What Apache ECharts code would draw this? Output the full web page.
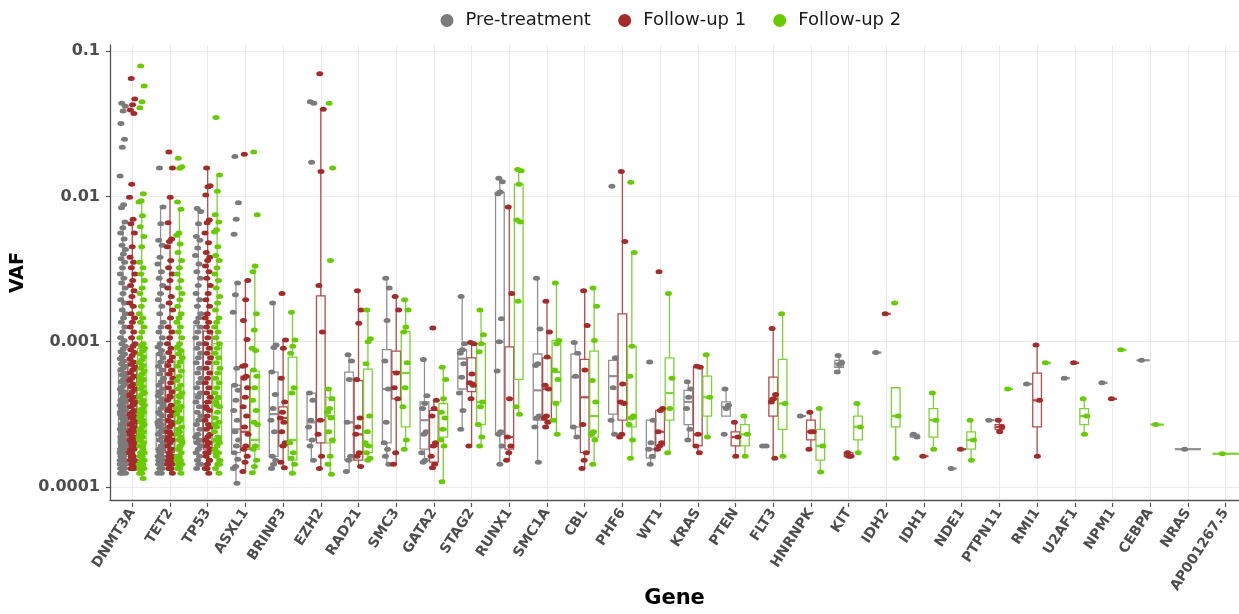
<!DOCTYPE html>
<html>
<head>
<meta charset="utf-8">
<script src="https://cdn.jsdelivr.net/npm/echarts@6/dist/echarts.min.js"></script>
<style>
  html, body { margin: 0; padding: 0; background: #fff; }
  #chart { width: 1239px; height: 614px; }
</style>
</head>
<body>
<div id="chart"></div>
<script>
var genes = ['DNMT3A', 'TET2', 'TP53', 'ASXL1', 'BRINP3', 'EZH2', 'RAD21', 'SMC3', 'GATA2', 'STAG2',
  'RUNX1', 'SMC1A', 'CBL', 'PHF6', 'WT1', 'KRAS', 'PTEN', 'FLT3', 'HNRNPK', 'KIT',
  'IDH2', 'IDH1', 'NDE1', 'PTPN11', 'RMI1', 'U2AF1', 'NPM1', 'CEBPA', 'NRAS', 'AP001267.5'];
var groups = ['Pre-treatment', 'Follow-up 1', 'Follow-up 2'];

// VAF of every sample, per gene
var prePts = {
  DNMT3A: [0.044, 0.042, 0.039, 0.032, 0.025, 0.022, 0.014, 0.0089, 0.0085, 0.0068, 0.0062, 0.0057, 0.0052, 0.0047,
    0.0044, 0.0041, 0.0038, 0.0036, 0.0033, 0.003, 0.0028, 0.0026, 0.0024, 0.0022, 0.002, 0.0019, 0.0017, 0.0016,
    0.0015, 0.0014, 0.0013, 0.0012, 0.0011, 0.00105, 0.001, 0.00096, 0.00092, 0.00088, 0.00085, 0.00082, 0.00079,
    0.00076, 0.00073, 0.0007, 0.00068, 0.00066, 0.00063, 0.00061, 0.00059, 0.00057, 0.00055, 0.00053, 0.00051,
    0.00049, 0.00047, 0.00046, 0.00044, 0.00043, 0.00041, 0.0004, 0.00039, 0.00038, 0.00037, 0.00036, 0.00035,
    0.00034, 0.00033, 0.00032, 0.00031, 0.0003, 0.00029, 0.00028, 0.00028, 0.00027, 0.00026, 0.00026, 0.00025,
    0.00024, 0.00024, 0.00023, 0.00022, 0.00022, 0.00021, 0.00021, 0.0002, 0.0002, 0.00019, 0.00019, 0.00018,
    0.00018, 0.00018, 0.00017, 0.00017, 0.00016, 0.00016, 0.00016, 0.00015, 0.00015, 0.00015, 0.00014, 0.00014,
    0.00014, 0.00013, 0.00013, 0.00056, 0.00048, 0.00042, 0.00038, 0.00034, 0.0003, 0.00027, 0.00025, 0.00023,
    0.00021, 0.0002, 0.00019, 0.00018, 0.00017, 0.00016, 0.00015, 0.00014, 0.00013, 0.00045, 0.00035, 0.00029,
    0.00026, 0.00022, 0.00019, 0.00017, 0.00015],
  TET2: [0.0159, 0.0086, 0.0066, 0.0051, 0.0047, 0.0039, 0.0035, 0.0031, 0.0028, 0.0025, 0.0022, 0.002, 0.0018,
    0.0016, 0.0014, 0.0013, 0.0012, 0.0011, 0.001, 0.00095, 0.0009, 0.00085, 0.0008, 0.00075, 0.0007, 0.00066,
    0.00062, 0.00058, 0.00055, 0.00052, 0.00049, 0.00046, 0.00044, 0.00042, 0.0004, 0.00038, 0.00036, 0.00034,
    0.00032, 0.0003, 0.00029, 0.00028, 0.00027, 0.00026, 0.00025, 0.00024, 0.00023, 0.00022, 0.00021, 0.0002,
    0.00019, 0.00019, 0.00018, 0.00017, 0.00017, 0.00016, 0.00016, 0.00015, 0.00015, 0.00014, 0.00014, 0.00013,
    0.00013, 0.00047, 0.00039, 0.00033, 0.00028, 0.00025, 0.00022, 0.0002, 0.00018, 0.00016, 0.00015, 0.00014],
  TP53: [0.0084, 0.008, 0.0066, 0.0054, 0.0051, 0.0045, 0.004, 0.0035, 0.0031, 0.0028, 0.0025, 0.0022, 0.002, 0.0018,
    0.0016, 0.0015, 0.0014, 0.0013, 0.0012, 0.0011, 0.001, 0.00093, 0.00086, 0.0008, 0.00074, 0.00068, 0.00063,
    0.00058, 0.00054, 0.0005, 0.00046, 0.00043, 0.0004, 0.00037, 0.00034, 0.00032, 0.0003, 0.00028, 0.00026,
    0.00024, 0.00023, 0.00022, 0.00021, 0.0002, 0.00019, 0.00018, 0.00017, 0.00016, 0.00015, 0.00015, 0.00014],
  ASXL1: [0.019, 0.0092, 0.0071, 0.0056, 0.0026, 0.00216, 0.00164, 0.00068, 0.00052, 0.00048, 0.00041, 0.00035,
    0.0003, 0.00025, 0.00022, 0.0002, 0.00018, 0.000162, 0.000145, 0.00014, 0.000111],
  BRINP3: [0.0019, 0.00098, 0.00094, 0.00064, 0.00045, 0.00036, 0.0003, 0.00025, 0.00017, 0.00016, 0.00015, 0.00014],
  EZH2: [0.045, 0.044, 0.0174, 0.00046, 0.00041, 0.0003, 0.00027, 0.00022, 0.0002, 0.00016],
  RAD21: [0.00084, 0.00076, 0.00057, 0.00029, 0.00017, 0.00016, 0.000134],
  SMC3: [0.0028, 0.0024, 0.00144, 0.00076, 0.00049, 0.00029, 0.00021, 0.00019, 0.00017, 0.00015],
  GATA2: [0.00078, 0.00044, 0.00039, 0.00036, 0.00025, 0.00024, 0.00018, 0.00016, 0.000155],
  STAG2: [0.0021, 0.001, 0.00091, 0.00086, 0.00073, 0.00059, 0.00046, 0.00035, 0.00026],
  RUNX1: [0.0135, 0.0128, 0.0109, 0.0106, 0.00148, 0.00103, 0.00065, 0.00025, 0.00024, 0.0002, 0.00015],
  SMC1A: [0.0028, 0.00126, 0.00073, 0.00071, 0.00032, 0.00031, 0.00027, 0.000155],
  CBL: [0.00102, 0.00086, 0.0006, 0.00027, 0.00023],
  PHF6: [0.0119, 0.0008, 0.0005, 0.0003, 0.00024],
  WT1: [0.00075, 0.0003, 0.00021, 0.00019, 0.00017, 0.00015],
  KRAS: [0.00055, 0.00049, 0.00043, 0.00036, 0.00026, 0.00022],
  PTEN: [0.00049, 0.00038, 0.00036, 0.00024],
  FLT3: [0.0002, 0.0002],
  HNRNPK: [0.00032],
  KIT: [0.00083, 0.00074, 0.00072, 0.00064],
  IDH2: [0.00087],
  IDH1: [0.00024, 0.00023],
  NDE1: [0.00014],
  PTPN11: [0.0003],
  RMI1: [0.00053],
  U2AF1: [0.00058],
  NPM1: [0.00054],
  CEBPA: [0.00077],
  NRAS: [0.00019]
};
var fu1Pts = {
  DNMT3A: [0.065, 0.047, 0.043, 0.0395, 0.0375, 0.0123, 0.01, 0.0071, 0.0066, 0.0057, 0.0046, 0.0039, 0.0036, 0.0033,
    0.003, 0.0027, 0.0025, 0.0023, 0.0021, 0.0019, 0.0018, 0.0016, 0.0015, 0.0014, 0.0013, 0.0012, 0.0011, 0.001,
    0.00096, 0.00091, 0.00087, 0.00083, 0.00079, 0.00075, 0.00072, 0.00069, 0.00066, 0.00063, 0.0006, 0.00058,
    0.00056, 0.00053, 0.00051, 0.00049, 0.00047, 0.00045, 0.00043, 0.00041, 0.0004, 0.00038, 0.00037, 0.00035,
    0.00034, 0.00033, 0.00032, 0.00031, 0.0003, 0.00029, 0.00028, 0.00027, 0.00026, 0.00025, 0.00025, 0.00024,
    0.00023, 0.00023, 0.00022, 0.00021, 0.00021, 0.0002, 0.0002, 0.00019, 0.00019, 0.00018, 0.00018, 0.00017,
    0.00017, 0.00016, 0.00016, 0.00016, 0.00015, 0.00015, 0.00015, 0.00014, 0.00014, 0.00014, 0.00052, 0.00044,
    0.00039, 0.00033, 0.00029, 0.00026, 0.00024, 0.00022, 0.0002, 0.00018, 0.00017, 0.00016, 0.00015, 0.00014],
  TET2: [0.0204, 0.0159, 0.01, 0.0067, 0.0052, 0.005, 0.0046, 0.0037, 0.0033, 0.003, 0.0027, 0.0024, 0.0021, 0.0019,
    0.0017, 0.0015, 0.0013, 0.0012, 0.0011, 0.001, 0.00093, 0.00087, 0.00081, 0.00076, 0.00071, 0.00066, 0.00062,
    0.00058, 0.00054, 0.0005, 0.00047, 0.00044, 0.00041, 0.00038, 0.00036, 0.00034, 0.00032, 0.0003, 0.00028,
    0.00027, 0.00025, 0.00024, 0.00023, 0.00022, 0.00021, 0.0002, 0.00019, 0.00018, 0.00017, 0.00017, 0.00016,
    0.00016, 0.00015, 0.00015, 0.00014, 0.00014, 0.00013, 0.00043, 0.00035, 0.00029, 0.00025, 0.00022, 0.00019,
    0.00017, 0.00015, 0.00014],
  TP53: [0.0159, 0.012, 0.0118, 0.0104, 0.007, 0.0067, 0.0057, 0.0049, 0.0042, 0.0039, 0.0037, 0.0034, 0.0031, 0.0028,
    0.0025, 0.0022, 0.002, 0.0018, 0.0016, 0.0015, 0.0014, 0.0013, 0.0012, 0.0011, 0.001, 0.00093, 0.00086, 0.0008,
    0.00074, 0.00068, 0.00063, 0.00058, 0.00054, 0.0005, 0.00046, 0.00043, 0.0004, 0.00037, 0.00035, 0.00032,
    0.0003, 0.00028, 0.00026, 0.00024, 0.00023, 0.00022, 0.00021, 0.0002, 0.00019, 0.00018, 0.00017, 0.00016,
    0.00015, 0.00014, 0.00013, 0.00036, 0.00027, 0.00021, 0.00018, 0.00016, 0.00014],
  ASXL1: [0.0197, 0.0027, 0.002, 0.00144, 0.00107, 0.00071, 0.0007, 0.0006, 0.00058, 0.0005, 0.00043, 0.00037,
    0.00032, 0.00027, 0.00024, 0.0002, 0.00019, 0.00017, 0.000155, 0.000134],
  BRINP3: [0.0022, 0.00106, 0.00093, 0.00058, 0.0004, 0.00034, 0.00031, 0.00029, 0.00025, 0.00021, 0.0002, 0.000155, 0.000142],
  EZH2: [0.07, 0.04, 0.015, 0.0025, 0.0012, 0.0003, 0.00024, 0.00017, 0.00014],
  RAD21: [0.0023, 0.0017, 0.00138, 0.00057, 0.00031, 0.00027, 0.00024, 0.00018, 0.00017, 0.000145],
  SMC3: [0.0021, 0.0017, 0.00063, 0.0005, 0.00042, 0.00018, 0.00015],
  GATA2: [0.00128, 0.00041, 0.00036, 0.00032, 0.00021, 0.0002, 0.00017, 0.00015, 0.000142],
  STAG2: [0.00102, 0.001, 0.00062, 0.00054, 0.00052, 0.00042, 0.0002],
  RUNX1: [0.0086, 0.0022, 0.00042, 0.00023, 0.0002, 0.00018, 0.00016],
  SMC1A: [0.00195, 0.0012, 0.00081, 0.00052, 0.00049, 0.00032, 0.00031, 0.00029, 0.00027],
  CBL: [0.0023, 0.00133, 0.00066, 0.00028, 0.00018, 0.00016, 0.00014],
  PHF6: [0.015, 0.005, 0.00053, 0.0004, 0.00039, 0.00024, 0.00023],
  WT1: [0.0031, 0.00036, 0.00035, 0.00025, 0.00021, 0.0002, 0.00019],
  KRAS: [0.0007, 0.00069, 0.00024, 0.0002, 0.00018],
  PTEN: [0.00029, 0.00023, 0.00017],
  FLT3: [0.00127, 0.00045, 0.00042, 0.0004, 0.000165],
  HNRNPK: [0.00034, 0.00025, 0.00025, 0.00019],
  KIT: [0.00018, 0.00017, 0.00017],
  IDH2: [0.0016],
  IDH1: [0.00017],
  NDE1: [0.00019],
  PTPN11: [0.0003, 0.00027, 0.00025],
  RMI1: [0.00098, 0.00041, 0.00017],
  U2AF1: [0.00074],
  NPM1: [0.00042]
};
var fu2Pts = {
  DNMT3A: [0.079, 0.0577, 0.045, 0.041, 0.0106, 0.0095, 0.0093, 0.0075, 0.0063, 0.0054, 0.0046, 0.0036, 0.0033, 0.003,
    0.0027, 0.0024, 0.0022, 0.002, 0.0018, 0.0016, 0.0015, 0.0014, 0.0013, 0.0012, 0.0011, 0.001, 0.00097, 0.00093,
    0.00089, 0.00085, 0.00081, 0.00077, 0.00074, 0.00071, 0.00068, 0.00065, 0.00062, 0.0006, 0.00057, 0.00055,
    0.00053, 0.00051, 0.00049, 0.00047, 0.00045, 0.00043, 0.00041, 0.0004, 0.00038, 0.00036, 0.00035, 0.00034,
    0.00032, 0.00031, 0.0003, 0.00029, 0.00028, 0.00027, 0.00026, 0.00025, 0.00024, 0.00023, 0.00023, 0.00022,
    0.00021, 0.0002, 0.0002, 0.00019, 0.00018, 0.00018, 0.00017, 0.00017, 0.00016, 0.00016, 0.00015, 0.00015,
    0.00014, 0.00014, 0.00013, 0.00013, 0.00012, 0.00058, 0.00046, 0.00039, 0.00033, 0.00028, 0.00025, 0.00022,
    0.0002, 0.00018, 0.00016, 0.00015, 0.00014],
  TET2: [0.0185, 0.0162, 0.0158, 0.0093, 0.0083, 0.0057, 0.0055, 0.0048, 0.0042, 0.0037, 0.0033, 0.003, 0.0027, 0.0024,
    0.0022, 0.002, 0.0018, 0.0016, 0.0015, 0.0014, 0.0013, 0.0012, 0.0011, 0.001, 0.00095, 0.0009, 0.00085, 0.0008,
    0.00075, 0.0007, 0.00065, 0.0006, 0.00056, 0.00052, 0.00049, 0.00046, 0.00043, 0.0004, 0.00037, 0.00035,
    0.00033, 0.00031, 0.00029, 0.00027, 0.00025, 0.00024, 0.00023, 0.00022, 0.00021, 0.0002, 0.00019, 0.00018,
    0.00017, 0.00016, 0.00016, 0.00015, 0.00015, 0.00014, 0.00014, 0.00013, 0.00044, 0.00036, 0.0003, 0.00026,
    0.00022, 0.00019, 0.00017, 0.00015],
  TP53: [0.0352, 0.0142, 0.011, 0.0076, 0.0068, 0.006, 0.0058, 0.0046, 0.004, 0.0037, 0.0033, 0.003, 0.0027, 0.0024,
    0.0021, 0.0019, 0.0017, 0.0015, 0.0014, 0.0013, 0.0012, 0.0011, 0.001, 0.00093, 0.00086, 0.0008, 0.00074,
    0.00068, 0.00063, 0.00058, 0.00054, 0.0005, 0.00046, 0.00043, 0.0004, 0.00037, 0.00034, 0.00031, 0.00029,
    0.00027, 0.00025, 0.00023, 0.00022, 0.00021, 0.0002, 0.00019, 0.00018, 0.00017, 0.00016, 0.00015, 0.00014,
    0.00013, 0.00038, 0.00028, 0.00022, 0.00018, 0.00015],
  ASXL1: [0.0204, 0.0076, 0.0034, 0.0031, 0.0016, 0.00124, 0.00093, 0.0009, 0.00066, 0.0006, 0.0005, 0.00041,
    0.00035, 0.00029, 0.00028, 0.0002, 0.00019, 0.00016, 0.000145, 0.000131],
  BRINP3: [0.00164, 0.00106, 0.00096, 0.00086, 0.0005, 0.00046, 0.00021, 0.00018, 0.000165, 0.00015, 0.00013],
  EZH2: [0.044, 0.0159, 0.0037, 0.00049, 0.00042, 0.00036, 0.00034, 0.00031, 0.00025, 0.00022, 0.00017, 0.00015, 0.000128],
  RAD21: [0.0017, 0.00108, 0.00103, 0.00073, 0.00032, 0.00025, 0.00021, 0.0002, 0.00018, 0.000165, 0.00016],
  SMC3: [0.002, 0.0017, 0.0013, 0.0012, 0.00074, 0.0005, 0.00037, 0.00022, 0.00019],
  GATA2: [0.00069, 0.00057, 0.00042, 0.00034, 0.00031, 0.00026, 0.00022, 0.0002, 0.000114],
  STAG2: [0.0017, 0.00115, 0.001, 0.00088, 0.0004, 0.00037, 0.00028, 0.00023, 0.0002],
  RUNX1: [0.0155, 0.0152, 0.0123, 0.007, 0.0068, 0.00195, 0.00037, 0.00033],
  SMC1A: [0.0026, 0.00105, 0.001, 0.00066, 0.00057, 0.00039, 0.0003, 0.00024],
  CBL: [0.0024, 0.0018, 0.00105, 0.00056, 0.0004, 0.00025, 0.00024, 0.00022, 0.00015],
  PHF6: [0.0127, 0.0042, 0.00096, 0.0006, 0.00032, 0.00031, 0.00028, 0.00022, 0.000165],
  WT1: [0.0022, 0.00058, 0.00036, 0.00018],
  KRAS: [0.00084, 0.00043, 0.00023],
  PTEN: [0.00032, 0.00024, 0.00017],
  FLT3: [0.0016, 0.00039, 0.00017],
  HNRNPK: [0.00036, 0.0002, 0.000133],
  KIT: [0.00039, 0.00027, 0.00018],
  IDH2: [0.0019, 0.00032, 0.000165],
  IDH1: [0.00046, 0.0003, 0.00019],
  NDE1: [0.0003, 0.00022, 0.00016],
  PTPN11: [0.00049],
  RMI1: [0.00074],
  U2AF1: [0.00042, 0.00032, 0.00024],
  NPM1: [0.00091],
  CEBPA: [0.00028],
  'AP001267.5': [0.000177]
};

// box statistics [lower whisker, Q1, median, Q3, upper whisker]
var preBox = {
  DNMT3A: [0.00013, 0.00019, 0.00031, 0.00068, 0.0068],
  TET2: [0.00013, 0.00018, 0.0003, 0.00085, 0.0086],
  TP53: [0.00014, 0.00021, 0.00045, 0.00133, 0.0084],
  ASXL1: [0.000111, 0.00018, 0.00026, 0.00052, 0.0026],
  BRINP3: [0.00014, 0.00017, 0.00033, 0.00064, 0.0019],
  EZH2: [0.00016, 0.00022, 0.00029, 0.00046, 0.00046],
  RAD21: [0.000134, 0.00016, 0.00029, 0.00064, 0.00084],
  SMC3: [0.00015, 0.00021, 0.00049, 0.00091, 0.0028],
  GATA2: [0.000155, 0.00019, 0.0003, 0.0004, 0.00078],
  STAG2: [0.00026, 0.00049, 0.00079, 0.00091, 0.0021],
  RUNX1: [0.00015, 0.00024, 0.00103, 0.0108, 0.0135],
  SMC1A: [0.000155, 0.0003, 0.00048, 0.00085, 0.0028],
  CBL: [0.00023, 0.00027, 0.00059, 0.00085, 0.00102],
  PHF6: [0.00024, 0.00033, 0.0006, 0.00077, 0.0008],
  WT1: [0.00015, 0.000165, 0.00019, 0.0003, 0.0003],
  KRAS: [0.00022, 0.00028, 0.0004, 0.00048, 0.00055],
  PTEN: [0.00032, 0.00032, 0.00037, 0.0004, 0.00049],
  FLT3: [0.0002, 0.0002, 0.0002, 0.0002, 0.0002],
  KIT: [0.00064, 0.00069, 0.00073, 0.00077, 0.00083],
  IDH1: [0.00023, 0.00023, 0.000235, 0.00024, 0.00024]
};
var fu1Box = {
  DNMT3A: [0.00014, 0.0002, 0.00033, 0.00075, 0.0071],
  TET2: [0.00013, 0.00018, 0.00029, 0.00075, 0.01],
  TP53: [0.00013, 0.00019, 0.0004, 0.00122, 0.0159],
  ASXL1: [0.000134, 0.00019, 0.00025, 0.0006, 0.0027],
  BRINP3: [0.000142, 0.0002, 0.00031, 0.00037, 0.00106],
  EZH2: [0.00014, 0.00021, 0.0003, 0.00212, 0.04],
  RAD21: [0.000145, 0.00016, 0.00024, 0.00056, 0.0023],
  SMC3: [0.00015, 0.00042, 0.00064, 0.00089, 0.0021],
  GATA2: [0.000142, 0.000155, 0.0002, 0.00035, 0.00041],
  STAG2: [0.0002, 0.00047, 0.00054, 0.0008, 0.00102],
  RUNX1: [0.00016, 0.00019, 0.00023, 0.00095, 0.0086],
  SMC1A: [0.00027, 0.0003, 0.00049, 0.0008, 0.00195],
  CBL: [0.00014, 0.00018, 0.00043, 0.00078, 0.0023],
  PHF6: [0.00023, 0.0003, 0.0004, 0.0016, 0.015],
  WT1: [0.00019, 0.0002, 0.00025, 0.00035, 0.00036],
  KRAS: [0.00018, 0.0002, 0.00024, 0.00069, 0.0007],
  PTEN: [0.00017, 0.0002, 0.00023, 0.00025, 0.00029],
  FLT3: [0.000165, 0.00032, 0.00042, 0.00059, 0.00127],
  HNRNPK: [0.00019, 0.00022, 0.00025, 0.0003, 0.00034],
  KIT: [0.00017, 0.00017, 0.00017, 0.00018, 0.00018],
  PTPN11: [0.00025, 0.00026, 0.00027, 0.00028, 0.0003],
  RMI1: [0.00017, 0.00027, 0.00041, 0.00063, 0.00098]
};
var fu2Box = {
  DNMT3A: [0.00012, 0.00021, 0.00036, 0.00093, 0.0095],
  TET2: [0.00013, 0.0002, 0.00038, 0.00091, 0.0083],
  TP53: [0.00013, 0.00021, 0.00042, 0.001, 0.0142],
  ASXL1: [0.000131, 0.00019, 0.00022, 0.00065, 0.0034],
  BRINP3: [0.00013, 0.00016, 0.00022, 0.00081, 0.00164],
  EZH2: [0.000128, 0.00021, 0.00032, 0.00043, 0.0005],
  RAD21: [0.00016, 0.00018, 0.0002, 0.00067, 0.0017],
  SMC3: [0.00019, 0.00027, 0.00063, 0.00121, 0.002],
  GATA2: [0.000114, 0.00023, 0.00026, 0.00039, 0.00069],
  STAG2: [0.0002, 0.00028, 0.0004, 0.001, 0.0017],
  RUNX1: [0.00033, 0.00057, 0.0069, 0.0123, 0.0155],
  SMC1A: [0.00024, 0.0004, 0.00064, 0.00105, 0.0026],
  CBL: [0.00015, 0.00023, 0.00032, 0.00089, 0.0024],
  PHF6: [0.000165, 0.00027, 0.00031, 0.00096, 0.0042],
  WT1: [0.00018, 0.0003, 0.00046, 0.0008, 0.0022],
  KRAS: [0.00023, 0.00032, 0.00043, 0.0006, 0.00084],
  PTEN: [0.00017, 0.0002, 0.00024, 0.00028, 0.00032],
  FLT3: [0.00017, 0.00026, 0.00039, 0.00078, 0.0016],
  HNRNPK: [0.000133, 0.00016, 0.0002, 0.00026, 0.00036],
  KIT: [0.00018, 0.00022, 0.00027, 0.00032, 0.00039],
  IDH2: [0.000165, 0.00027, 0.00032, 0.0005, 0.0005],
  IDH1: [0.00019, 0.00023, 0.0003, 0.00036, 0.00046],
  NDE1: [0.00016, 0.00019, 0.00022, 0.00025, 0.0003],
  U2AF1: [0.00024, 0.00028, 0.00032, 0.00036, 0.00042]
};

var pts = [prePts, fu1Pts, fu2Pts];
var boxes = [preBox, fu1Box, fu2Box];
var pointColor = ['#7b7b7b', '#a52a2a', '#66cc00'];
var boxColor = ['#909090', '#b54b4b', '#7bd235'];

var yMin = 8.15e-5, yMax = 0.11;

// dodge slot of group k inside gene gi (only groups that are present share the width)
function slotOf(gi, k) {
  var present = [0, 1, 2].filter(function (m) { return pts[m][genes[gi]]; });
  var w = 0.75 / present.length;
  return { x: gi - 0.375 + w * (present.indexOf(k) + 0.5), w: w };
}

function boxRenderer(color) {
  return function (params, api) {
    var x = api.value(0), hw = api.value(6);
    var lo = api.coord([x, api.value(1)]);
    var q1 = api.coord([x, api.value(2)]);
    var md = api.coord([x, api.value(3)]);
    var q3 = api.coord([x, api.value(4)]);
    var hi = api.coord([x, api.value(5)]);
    var l = api.coord([x - hw, api.value(3)])[0];
    var r = api.coord([x + hw, api.value(3)])[0];
    var st = { stroke: color, lineWidth: 1.3, fill: 'none' };
    return {
      type: 'group',
      children: [
        { type: 'line', shape: { x1: hi[0], y1: hi[1], x2: q3[0], y2: q3[1] }, style: st },
        { type: 'line', shape: { x1: q1[0], y1: q1[1], x2: lo[0], y2: lo[1] }, style: st },
        { type: 'rect', shape: { x: l, y: q3[1], width: r - l, height: q1[1] - q3[1] }, style: st },
        { type: 'line', shape: { x1: l, y1: md[1], x2: r, y2: md[1] }, style: { stroke: color, lineWidth: 2.2 } }
      ]
    };
  };
}

var series = [];
groups.forEach(function (name, k) {
  var boxData = [], ptData = [];
  genes.forEach(function (g, gi) {
    var vals = pts[k][g];
    if (!vals) return;
    var s = slotOf(gi, k);
    var b = boxes[k][g] || [vals[0], vals[0], vals[0], vals[0], vals[0]];
    boxData.push([s.x, b[0], b[1], b[2], b[3], b[4], s.w * 0.46]);
    vals.forEach(function (v, j) {
      var jit = ((((j + 0.5) * 0.618034) % 1) - 0.5) * s.w * 0.6;
      ptData.push([s.x + jit, v]);
    });
  });
  series.push({
    type: 'custom', name: 'box ' + name, xAxisIndex: 1, yAxisIndex: 1, z: 2, silent: true, clip: false,
    renderItem: boxRenderer(boxColor[k]), encode: { x: 0, y: [1, 2, 3, 4, 5] }, data: boxData
  });
  series.push({
    type: 'scatter', name: name, xAxisIndex: 1, yAxisIndex: 1, z: 3, clip: false,
    symbol: 'circle', symbolSize: [7, 5], itemStyle: { color: pointColor[k], opacity: 1 }, data: ptData
  });
});

var legendText = { fontFamily: 'DejaVu Sans', fontSize: 18, color: '#1a1a1a' };
var legendLeft = [440.5, 618.2, 773.2];

var chart = echarts.init(document.getElementById('chart'));
chart.setOption({
  animation: false,
  textStyle: { fontFamily: 'DejaVu Sans' },
  legend: groups.map(function (name, k) {
    return {
      left: legendLeft[k], top: 11.5, padding: 0, icon: 'circle', itemWidth: 27, itemHeight: 13,
      data: [{ name: name, itemStyle: { color: pointColor[k] } }], textStyle: legendText, selectedMode: false
    };
  }),
  grid: [
    { left: 110, top: 45, width: 1139, height: 458 },
    { left: 132.3, top: 45, width: 1093.3, height: 458 }
  ],
  xAxis: [
    {
      type: 'value', gridIndex: 0, min: 0, max: 1,
      name: 'Gene', nameLocation: 'middle', nameGap: 88,
      nameTextStyle: { fontFamily: 'DejaVu Sans', fontWeight: 'bold', fontSize: 21, color: '#000' },
      axisLine: { show: true, onZero: false, lineStyle: { color: '#555', width: 1.3 } },
      axisTick: { show: false }, axisLabel: { show: false }, splitLine: { show: false }
    },
    {
      type: 'value', gridIndex: 1, min: 0, max: 29, interval: 1,
      axisLine: { show: false, onZero: false },
      axisTick: { show: true, length: 4, lineStyle: { color: '#555', width: 1.2 } },
      axisLabel: {
        rotate: 57, margin: 7, fontSize: 14, fontWeight: 'bold', color: '#4d4d4d',
        showMinLabel: true, showMaxLabel: true,
        formatter: function (v) { return genes[Math.round(v)]; }
      },
      splitLine: { show: true, lineStyle: { color: '#ebebeb', width: 1 } }
    }
  ],
  yAxis: [
    {
      type: 'log', logBase: 10, gridIndex: 0, min: yMin, max: yMax,
      name: 'VAF', nameLocation: 'middle', nameGap: 74, nameRotate: 90,
      nameTextStyle: { fontFamily: 'DejaVu Sans', fontWeight: 'bold', fontSize: 19, color: '#000' },
      axisLine: { show: true, onZero: false, lineStyle: { color: '#555', width: 1.3 } },
      axisTick: { show: true, length: 4, lineStyle: { color: '#555', width: 1.2 } },
      axisLabel: {
        margin: 10, fontSize: 16, fontWeight: 'bold', color: '#4d4d4d',
        showMinLabel: false, showMaxLabel: false,
        formatter: function (v) { return String(Number(v.toPrecision(1))); }
      },
      splitLine: { show: true, showMinLine: false, showMaxLine: false, lineStyle: { color: '#ebebeb', width: 1 } },
      minorSplitLine: { show: false }
    },
    {
      type: 'log', logBase: 10, gridIndex: 1, min: yMin, max: yMax, show: false
    }
  ],
  series: series
});
</script>
</body>
</html>
